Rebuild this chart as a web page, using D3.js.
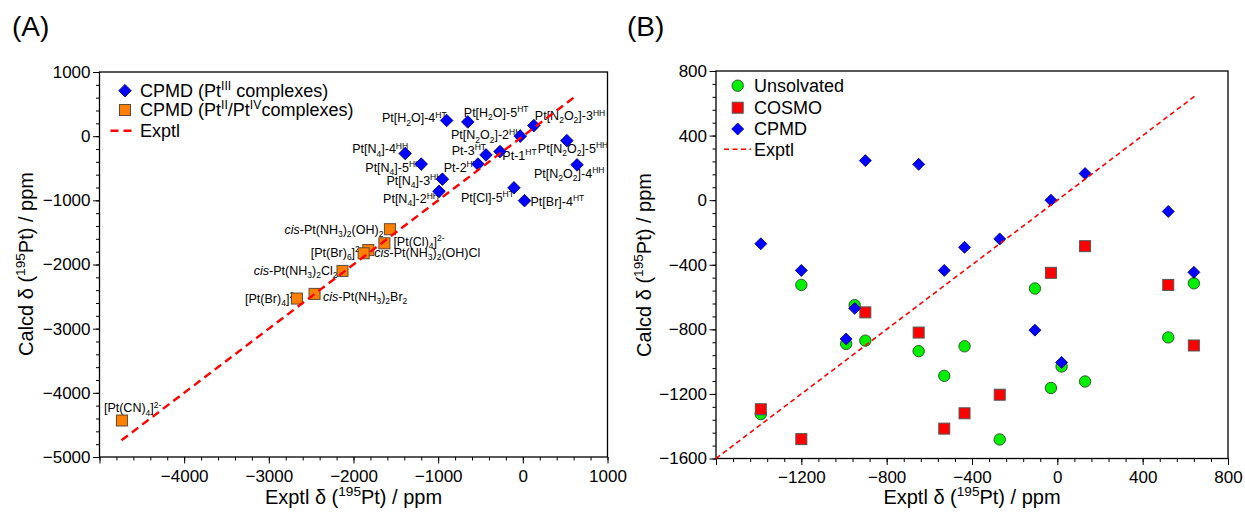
<!DOCTYPE html>
<html><head><meta charset="utf-8">
<script src="https://cdn.jsdelivr.net/npm/d3@7"></script>
<style>
html,body{margin:0;padding:0;background:#fff;}
text{font-family:"Liberation Sans",Arial,sans-serif;fill:#000;}
</style></head>
<body>
<svg id="chart" width="1245" height="514"></svg>
<script>
// ---------------- DATA ----------------
// Pt(III) complexes (same compounds in panel A and B), exptl shift
const cpmdLabels = ["Pt[H_2O]-4^{HT}","Pt[H_2O]-5^{HT}","Pt[N_2O_2]-3^{HH}","Pt[N_2O_2]-2^{HH}","Pt[N_4]-4^{HH}","Pt[N_2O_2]-5^{HH}","Pt-3^{HT}","Pt-1^{HT}","Pt[N_4]-5^{HH}","Pt-2^{HT}","Pt[N_2O_2]-4^{HH}","Pt[N_4]-3^{HH}","Pt[N_4]-2^{HH}","Pt[Cl]-5^{HT}","Pt[Br]-4^{HT}"];
const exptlPt3   = [-900, -650, 130, -30, -1390, 520, -435, -270, -1200, -530, 640, -950, -990, -105, 20];
const cpmdPt3    = [245, 222, 165, 0, -270, -70, -292, -240, -435, -435, -447, -670, -860, -805, -1005];
const unsolvated = [-870, -935, -1123, -1163, -1325, -850, -905, -1482, -525, -1088, -515, -650, -890, -547, -1030];
const cosmo      = [-695, -820, -285, -450, -1295, -525, -1320, -1205, -1480, -1415, -900, null, null, null, null];

// Pt(II)/Pt(IV) complexes (panel A)
const pt24Labels = ["*cis*-Pt(NH_3)_2(OH)_2","[Pt(Cl)_4]^{2-}","*cis*-Pt(NH_3)_2(OH)Cl","[Pt(Br)_6]^{2-}","*cis*-Pt(NH_3)_2Cl_2","*cis*-Pt(NH_3)_2Br_2","[Pt(Br)_4]^{2-}","[Pt(CN)_4]^{2-}"];
const exptlPt24 = [-1570, -1635, -1825, -1880, -2130, -2460, -2668, -4735];
const cpmdPt24  = [-1450, -1670, -1775, -1825, -2100, -2458, -2531, -4431];

// Exptl (y = x) line extent
const exptlLine = [-4740, 645];

// Axis ticks
const ticksAx = [-4000, -3000, -2000, -1000, 0, 1000];
const ticksAy = [1000, 0, -1000, -2000, -3000, -4000, -5000];
const ticksBx = [-1200, -800, -400, 0, 400, 800];
const ticksBy = [800, 400, 0, -400, -800, -1200, -1600];

// ---------------- LAYOUT (label placement, not data) ----------------
const cpmdPlace = [["end",0,2],["start",-4,-5],["start",1,-5.3],["end",1,3.3],["end",3,0],["start",-29,12.3],["end",0,0],["start",2.4,8],["end",0,7.7],["end",0,7.7],["start",-43,13],["end",0,5.7],["end",0,12],["end",0,14.4],["start",6,5]];
const pt24Place = [["end",-6.5,4.3],["start",9,2.7],["start",6,6.7],["end",-1,3.4],["end",-5,4],["start",8.4,6.7],["end",0,4],["start",-18,-8]];

const svg = d3.select("#chart");

// rich text: ^{..} superscript, _x or _{..} subscript, *..* italic
function parseRich(s){
  const segs=[]; let i=0, italic=false, buf="";
  const flush=()=>{ if(buf){segs.push({t:buf,type:"n",it:italic}); buf="";} };
  while(i<s.length){
    const c=s[i];
    if(c==="*"){flush(); italic=!italic; i++; continue;}
    if(c==="^"||c==="_"){
      flush();
      let content;
      if(s[i+1]==="{"){const j=s.indexOf("}",i+2); content=s.slice(i+2,j); i=j+1;}
      else {content=s[i+1]; i+=2;}
      segs.push({t:content,type:c==="^"?"sup":"sub",it:italic});
      continue;
    }
    buf+=c; i++;
  }
  flush();
  return segs;
}
function richText(g, str, fs){
  const segs=parseRich(str);
  let shift=0;
  segs.forEach(sg=>{
    let target=0, size=fs;
    if(sg.type==="sup"){target=-0.38*fs; size=0.68*fs;}
    if(sg.type==="sub"){target=0.25*fs; size=0.68*fs;}
    g.append("tspan").text(sg.t).attr("dy",target-shift).attr("font-size",size)
      .attr("font-style",sg.it?"italic":null);
    shift=target;
  });
  return g;
}
function diamond(g,x,y,r){
  return g.append("path").attr("d",`M${x},${y-r}L${x+r},${y}L${x},${y+r}L${x-r},${y}Z`);
}

function drawAxes(x,y,xt,yt,xMinorStep,yMinorStep,g){
  const [x0,x1]=x.domain(), [y0,y1]=y.domain();
  const [px0,px1]=x.range(), [py0,py1]=y.range();
  const minorX=d3.range(x0,x1+1e-6,xMinorStep), minorY=d3.range(y0,y1+1e-6,yMinorStep);
  const fmt=d3.format("");
  g.append("g").attr("transform",`translate(0,${py0})`)
    .call(d3.axisBottom(x).tickValues(minorX).tickSize(3.5).tickFormat(""))
    .call(a=>a.select(".domain").remove());
  g.append("g").attr("transform",`translate(0,${py0})`)
    .call(d3.axisBottom(x).tickValues(xt.concat([x0])).tickSize(6.5).tickPadding(6).tickFormat(d=>xt.includes(d)?fmt(d):""))
    .call(a=>{a.select(".domain").remove(); a.selectAll("text").attr("font-size",17).attr("font-family","Liberation Sans");});
  g.append("g").attr("transform",`translate(${px0},0)`)
    .call(d3.axisLeft(y).tickValues(minorY).tickSize(3.5).tickFormat(""))
    .call(a=>a.select(".domain").remove());
  g.append("g").attr("transform",`translate(${px0},0)`)
    .call(d3.axisLeft(y).tickValues(yt).tickSize(6.5).tickPadding(2.5).tickFormat(fmt))
    .call(a=>{a.select(".domain").remove(); a.selectAll("text").attr("font-size",17).attr("font-family","Liberation Sans");});
  g.selectAll(".tick line").attr("stroke","#000").attr("stroke-width",1);
  g.append("rect").attr("x",px0).attr("y",py1).attr("width",px1-px0).attr("height",py0-py1)
    .attr("fill","none").attr("stroke","#000").attr("stroke-width",1.3);
}

// ---------------- PANEL A ----------------
const xA=d3.scaleLinear([-5000,1000],[99.5,607.5]);
const yA=d3.scaleLinear([-5000,1000],[457,72]);
const gA=svg.append("g");
drawAxes(xA,yA,ticksAx,ticksAy,200,200,gA);

// labels
const labA=gA.append("g").attr("font-size",12.5);
exptlPt3.forEach((ex,i)=>{
  const p=cpmdPlace[i];
  const t=labA.append("text").attr("x",xA(ex)+p[1]).attr("y",yA(cpmdPt3[i])+p[2]).attr("text-anchor",p[0]).attr("font-size",12.5);
  richText(t,cpmdLabels[i],12.5);
});
exptlPt24.forEach((ex,i)=>{
  const p=pt24Place[i];
  const t=labA.append("text").attr("x",xA(ex)+p[1]).attr("y",yA(cpmdPt24[i])+p[2]).attr("text-anchor",p[0]).attr("font-size",12.5);
  richText(t,pt24Labels[i],12.5);
});
// markers
exptlPt24.forEach((ex,i)=>{
  gA.append("rect").attr("x",xA(ex)-5.5).attr("y",yA(cpmdPt24[i])-5.5).attr("width",11).attr("height",11)
    .attr("fill","#FF8000").attr("stroke","#5e4a36").attr("stroke-width",1);
});
exptlPt3.forEach((ex,i)=>{
  diamond(gA,xA(ex),yA(cpmdPt3[i]),6.3).attr("fill","#0000FF").attr("stroke","#000066").attr("stroke-width",0.8);
});
gA.append("line").attr("x1",xA(exptlLine[0])).attr("y1",yA(exptlLine[0])).attr("x2",xA(exptlLine[1])).attr("y2",yA(exptlLine[1]))
  .attr("stroke","#FF0000").attr("stroke-width",2.4).attr("stroke-dasharray","8,5");

// legend A
const lgA=gA.append("g");
diamond(lgA,125,90.7,6.3).attr("fill","#0000FF").attr("stroke","#000066").attr("stroke-width",0.8);
lgA.append("rect").attr("x",119.5).attr("y",104.5).attr("width",11).attr("height",11).attr("fill","#FF8000").attr("stroke","#5e4a36");
lgA.append("line").attr("x1",110.5).attr("x2",133).attr("y1",130.7).attr("y2",130.7).attr("stroke","#FF0000").attr("stroke-width",2.4).attr("stroke-dasharray","8,5");
richText(lgA.append("text").attr("x",140).attr("y",97).attr("font-size",18),"CPMD (Pt^{III} complexes)",18);
richText(lgA.append("text").attr("x",140).attr("y",116.3).attr("font-size",18),"CPMD (Pt^{II}/Pt^{IV}complexes)",18);
richText(lgA.append("text").attr("x",140).attr("y",137).attr("font-size",18),"Exptl",18);

// axis titles A
richText(svg.append("text").attr("x",353.5).attr("y",504).attr("text-anchor","middle").attr("font-size",20),"Exptl δ (^{195}Pt) / ppm",20);
richText(svg.append("text").attr("transform","translate(33,264) rotate(-90)").attr("text-anchor","middle").attr("font-size",20),"Calcd δ (^{195}Pt) / ppm",20);

// ---------------- PANEL B ----------------
const xB=d3.scaleLinear([-1600,800],[716,1228]);
const yB=d3.scaleLinear([-1600,800],[458.5,71]);
const gB=svg.append("g");
drawAxes(xB,yB,ticksBx,ticksBy,80,80,gB);

exptlPt3.forEach((ex,i)=>{
  gB.append("circle").attr("cx",xB(ex)).attr("cy",yB(unsolvated[i])).attr("r",5.7)
    .attr("fill","#00F000").attr("stroke","#2a4a2a").attr("stroke-width",0.9);
});
exptlPt3.forEach((ex,i)=>{
  if(cosmo[i]===null) return;
  gB.append("rect").attr("x",xB(ex)-5.5).attr("y",yB(cosmo[i])-5.5).attr("width",11).attr("height",11)
    .attr("fill","#FF0000").attr("stroke","#555").attr("stroke-width",1);
});
exptlPt3.forEach((ex,i)=>{
  diamond(gB,xB(ex),yB(cpmdPt3[i]),6).attr("fill","#0000FF").attr("stroke","#000066").attr("stroke-width",0.8);
});
const lineStart=Math.max(exptlLine[0],-1600);
gB.append("line").attr("x1",xB(lineStart)).attr("y1",yB(lineStart)).attr("x2",xB(exptlLine[1])).attr("y2",yB(exptlLine[1]))
  .attr("stroke","#FF0000").attr("stroke-width",1.6).attr("stroke-dasharray","5,3.5");

// legend B
const lgB=gB.append("g");
lgB.append("circle").attr("cx",737.7).attr("cy",85.7).attr("r",5.7).attr("fill","#00F000").attr("stroke","#2a4a2a").attr("stroke-width",0.9);
lgB.append("rect").attr("x",732.2).attr("y",102.2).attr("width",11).attr("height",11).attr("fill","#FF0000").attr("stroke","#555");
diamond(lgB,737.7,129,6).attr("fill","#0000FF").attr("stroke","#000066").attr("stroke-width",0.8);
lgB.append("line").attr("x1",724).attr("x2",751).attr("y1",149.3).attr("y2",149.3).attr("stroke","#FF0000").attr("stroke-width",1.6).attr("stroke-dasharray","5,3.5");
["Unsolvated","COSMO","CPMD","Exptl"].forEach((s,i)=>{
  lgB.append("text").attr("x",754).attr("y",[92,114,135.3,155.6][i]).attr("font-size",18).text(s);
});

richText(svg.append("text").attr("x",972).attr("y",504).attr("text-anchor","middle").attr("font-size",20),"Exptl δ (^{195}Pt) / ppm",20);
richText(svg.append("text").attr("transform","translate(651,265) rotate(-90)").attr("text-anchor","middle").attr("font-size",20),"Calcd δ (^{195}Pt) / ppm",20);

// panel titles
svg.append("text").attr("x",12).attr("y",36).attr("font-family","Liberation Serif").attr("font-size",28).text("(A)");
svg.append("text").attr("x",627).attr("y",36).attr("font-family","Liberation Serif").attr("font-size",28).text("(B)");
</script>
</body></html>
